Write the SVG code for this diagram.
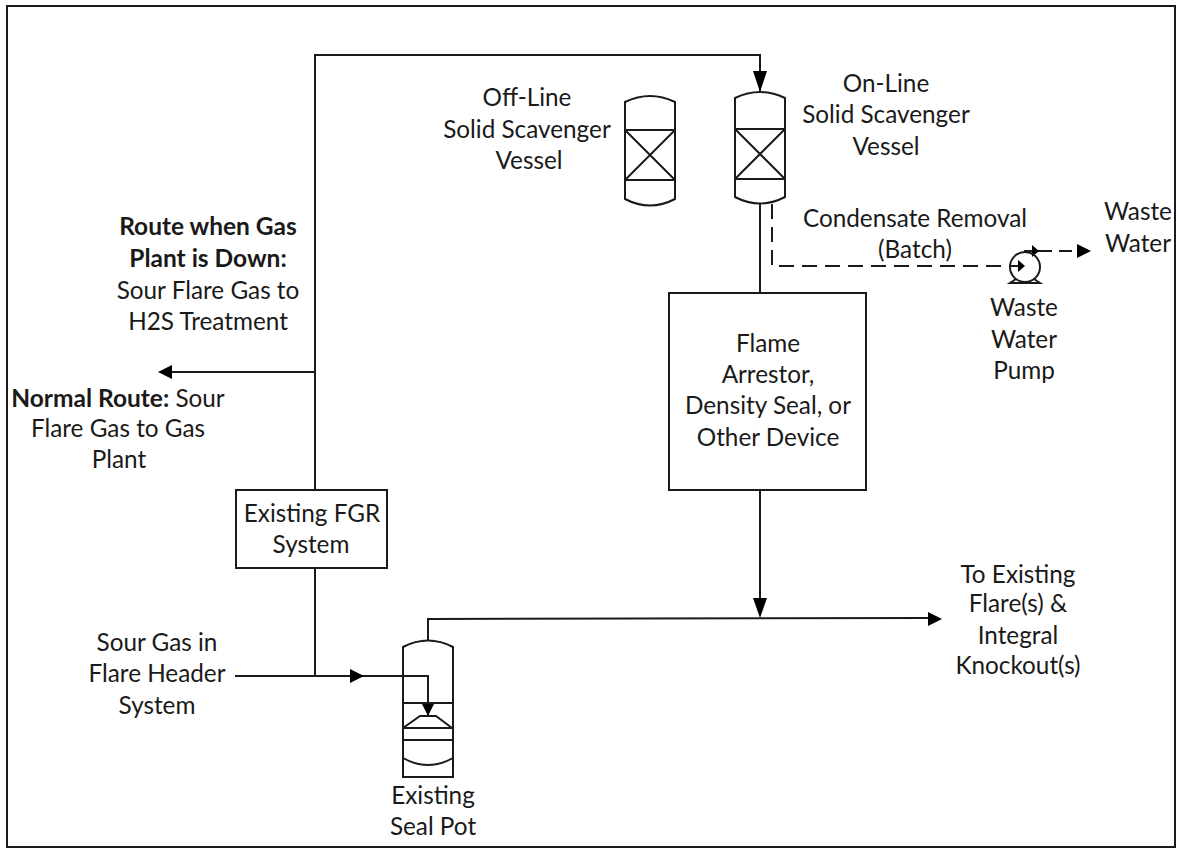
<svg xmlns="http://www.w3.org/2000/svg" width="1179" height="848" viewBox="0 0 1179 848">
<style>
.s{fill:none;stroke:#1a1a1a;stroke-width:2}
.d{fill:none;stroke:#1a1a1a;stroke-width:2;stroke-dasharray:15 8}
.a{fill:#000;stroke:none}
text{font-family:"Lato","Carlito","Liberation Sans",sans-serif;font-size:24.3px;fill:#1a1a1a;text-anchor:middle}
.b{font-weight:700;font-size:24.5px}
</style>
<rect width="1179" height="848" fill="#fff"/>
<rect x="7" y="6" width="1168" height="841" fill="none" stroke="#1a1a1a" stroke-width="2"/>
<g id="connectors">
<path class="s" d="M315 490V55H760V92"/>
<path class="s" d="M315 372H170"/>
<path class="s" d="M315 568V676"/>
<path class="s" d="M235 676H428V716"/>
<path class="s" d="M428 640V619L930 618"/>
<path class="s" d="M760 204V293"/>
<path class="s" d="M760 490V600"/>
<path class="d" d="M772 204V266H1018"/>
<path class="s" d="M1024 251H1052"/>
<path class="s" d="M1059 251H1072"/>
<polygon class="a" points="753,71 767,71 760,92"/>
<polygon class="a" points="158,372 172,365 172,379"/>
<polygon class="a" points="364,676 350,669 350,683"/>
<polygon class="a" points="428,716 421,702 435,702"/>
<polygon class="a" points="760,618 753,598 767,598"/>
<polygon class="a" points="942,619 928,612 928,626"/>
<polygon class="a" points="1025,266 1018,260 1018,272"/>
<polygon class="a" points="1039,251 1032,245 1032,257"/>
<polygon class="a" points="1091,251 1077,244 1077,258"/>
</g>
<g id="offline-vessel">
<path class="s" d="M625 102Q650 90 675 102V199Q650 212 625 199Z"/>
<path class="s" d="M625 130H675V180H625ZM625 130L675 180M675 130L625 180"/>
</g>
<g id="online-vessel">
<path class="s" d="M735 98Q760 86 785 98V197Q760 210 735 197Z"/>
<path class="s" d="M735 129H785V179H735ZM735 129L785 179M785 129L735 179"/>
</g>
<g id="seal-pot">
<path class="s" d="M403 647Q428 634 453 647V777H403Z"/>
<path class="s" d="M403 703H453M403 728H453M403 740H453M403 758Q428 772 453 758M403 728L420 716H436L452 728"/>
</g>
<g id="pump">
<circle class="s" cx="1025" cy="267" r="15"/>
<path class="s" d="M1016 279L1010 283H1040L1034 279"/>
</g>
<g id="flame-arrestor">
<rect class="s" x="669" y="293" width="197" height="197"/>
<text x="768" y="352">Flame</text>
<text x="768" y="383">Arrestor,</text>
<text x="768" y="414">Density Seal, or</text>
<text x="768" y="446">Other Device</text>
</g>
<g id="fgr">
<rect class="s" x="236" y="490" width="151" height="78"/>
<text x="312" y="522">Existing FGR</text>
<text x="311" y="553">System</text>
</g>
<g id="labels">
<text x="527" y="106">Off-Line</text>
<text x="527" y="138">Solid Scavenger</text>
<text x="529" y="169">Vessel</text>
<text x="886" y="92">On-Line</text>
<text x="886" y="123">Solid Scavenger</text>
<text x="886" y="155">Vessel</text>
<text x="915" y="227">Condensate Removal</text>
<text x="915" y="258">(Batch)</text>
<text x="1138" y="220">Waste</text>
<text x="1138" y="252">Water</text>
<text x="1024" y="316">Waste</text>
<text x="1024" y="348">Water</text>
<text x="1024" y="379">Pump</text>
<text class="b" x="208" y="235">Route when Gas</text>
<text class="b" x="208" y="267">Plant is Down:</text>
<text x="208" y="299">Sour Flare Gas to</text>
<text x="208" y="330">H2S Treatment</text>
<text x="118" y="407"><tspan class="b">Normal Route:</tspan> Sour</text>
<text x="118" y="437">Flare Gas to Gas</text>
<text x="119" y="468">Plant</text>
<text x="157" y="651">Sour Gas in</text>
<text x="157" y="682">Flare Header</text>
<text x="157" y="714">System</text>
<text x="1018" y="583">To Existing</text>
<text x="1018" y="612">Flare(s)  &amp;</text>
<text x="1018" y="644">Integral</text>
<text x="1018" y="674">Knockout(s)</text>
<text x="433" y="804">Existing</text>
<text x="433" y="835">Seal Pot</text>
</g>
</svg>
